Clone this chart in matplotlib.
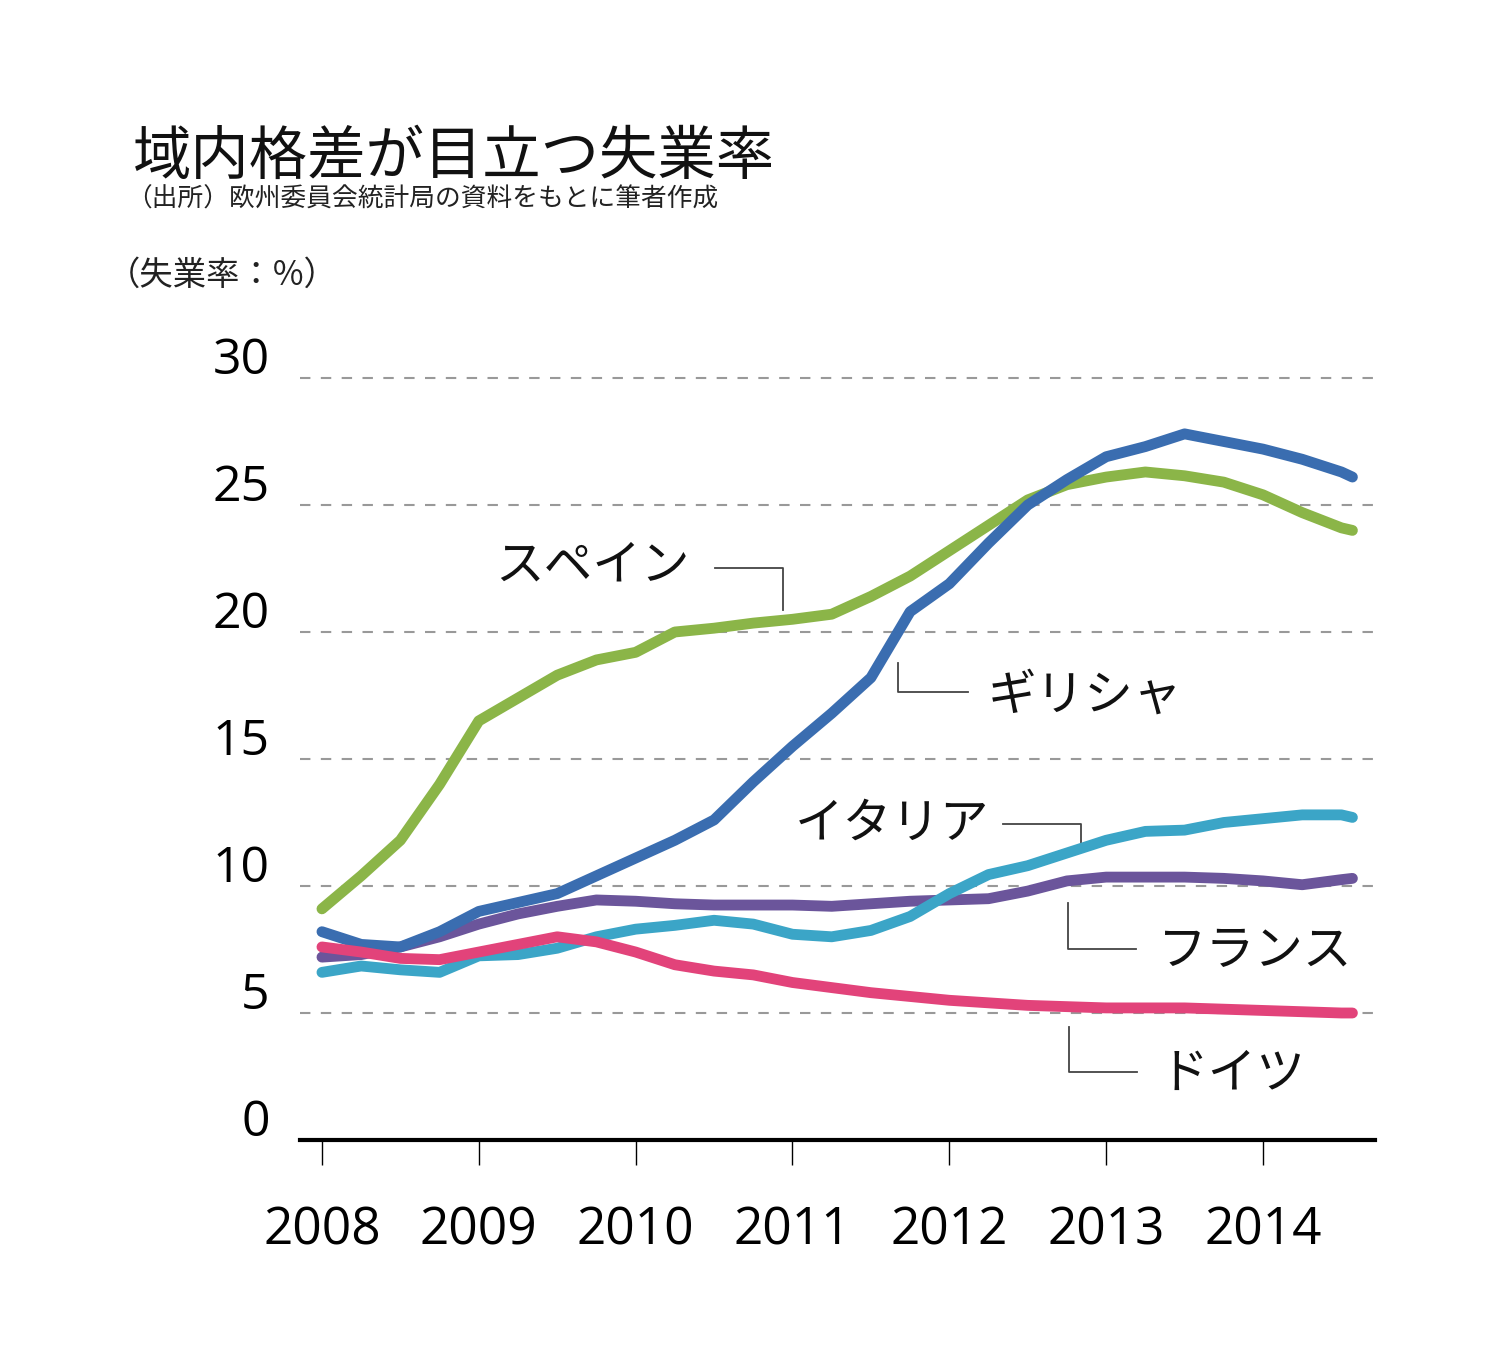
import numpy as np
import matplotlib.pyplot as plt
from matplotlib import transforms

plt.rcParams['font.family'] = ['Noto Sans CJK JP', 'DejaVu Sans']

# 四半期ごとの時点（2008年1月〜2014年半ば）
t = np.append(2008 + np.arange(27) / 4, 2014.57)

spain = [9.1, 10.4, 11.8, 14.0, 16.5, 17.4, 18.3, 18.9, 19.2, 20.0, 20.15, 20.35, 20.5, 20.7,
         21.4, 22.2, 23.2, 24.2, 25.2, 25.8, 26.1, 26.3, 26.15, 25.9, 25.4, 24.7, 24.1, 24.0]
greece = [8.2, 7.7, 7.6, 8.2, 9.0, 9.35, 9.7, 10.4, 11.1, 11.8, 12.6, 14.1, 15.5, 16.8,
          18.2, 20.8, 21.9, 23.5, 25.0, 26.0, 26.9, 27.3, 27.8, 27.5, 27.2, 26.8, 26.3, 26.1]
italy = [6.6, 6.85, 6.7, 6.6, 7.25, 7.3, 7.55, 8.0, 8.3, 8.45, 8.65, 8.5, 8.1, 8.0,
         8.25, 8.8, 9.7, 10.45, 10.8, 11.3, 11.8, 12.15, 12.2, 12.5, 12.65, 12.8, 12.8, 12.7]
france = [7.2, 7.3, 7.6, 8.0, 8.5, 8.9, 9.2, 9.45, 9.4, 9.3, 9.25, 9.25, 9.25, 9.2,
          9.3, 9.4, 9.45, 9.5, 9.8, 10.2, 10.35, 10.35, 10.35, 10.3, 10.2, 10.05, 10.25, 10.3]
germany = [7.6, 7.4, 7.15, 7.1, 7.4, 7.7, 8.0, 7.8, 7.4, 6.9, 6.65, 6.5, 6.2, 6.0,
           5.8, 5.65, 5.5, 5.4, 5.3, 5.25, 5.2, 5.2, 5.2, 5.15, 5.1, 5.05, 5.0, 5.0]

years = [2008, 2009, 2010, 2011, 2012, 2013, 2014]
yticks = [0, 5, 10, 15, 20, 25, 30]

fig = plt.figure(figsize=(15, 13.69), dpi=100)
ax = fig.add_axes([0.2, 0.16728, 0.71667, 0.55661])
ax.set_xlim(2007.86, 2014.714)
ax.set_ylim(0, 30)

# 補助線（破線）
for v in yticks[1:]:
    ax.axhline(v, color='#999999', lw=1.5, dashes=(5, 5), zorder=1, clip_on=False)

lw = 7.8
ax.plot(t, france, color='#6b559b', lw=lw, solid_capstyle='round', zorder=3)
ax.plot(t, italy, color='#3ba5c7', lw=lw, solid_capstyle='round', zorder=3)
ax.plot(t, spain, color='#8bb548', lw=lw, solid_capstyle='round', zorder=3)
ax.plot(t, greece, color='#3a6db0', lw=lw, solid_capstyle='round', zorder=3)
ax.plot(t, germany, color='#e2437a', lw=lw, solid_capstyle='round', zorder=3)

for s in ['top', 'right', 'left']:
    ax.spines[s].set_visible(False)
ax.spines['bottom'].set_linewidth(3)
ax.spines['bottom'].set_zorder(4)

ax.set_xticks(years)
ax.set_xticklabels([str(y) for y in years], family=['Open Sans', 'DejaVu Sans'], fontsize=37)
ax.tick_params(axis='x', length=18, width=1, direction='out', pad=29)
ax.set_yticks([])

# 縦軸の数字（線の少し上）
off = transforms.offset_copy(ax.get_yaxis_transform(), fig=fig, y=12, units='points')
for v in yticks:
    ax.text(-0.028, v, str(v), transform=off, ha='right', va='center',
            fontsize=36, family=['Open Sans', 'DejaVu Sans'])

# ラベルと引き出し線
lc = '#444444'
ax.plot([2010.506, 2010.94, 2010.94], [22.52, 22.52, 20.87], color=lc, lw=1.3, zorder=2)
ax.plot([2011.673, 2011.673, 2012.119], [18.78, 17.64, 17.64], color=lc, lw=1.3, zorder=2)
ax.plot([2012.342, 2012.84, 2012.84], [12.44, 12.44, 11.69], color=lc, lw=1.3, zorder=2)
ax.plot([2012.757, 2012.757, 2013.19], [9.33, 7.52, 7.52], color=lc, lw=1.3, zorder=2)
ax.plot([2012.763, 2012.763, 2013.197], [4.45, 2.68, 2.68], color=lc, lw=1.3, zorder=2)

lab = dict(fontsize=35, ha='left', va='center', color='#111111')
ax.text(2009.103, 22.6, 'スペイン', **lab)
ax.text(2012.247, 17.5, 'ギリシャ', **lab)
ax.text(2011.016, 12.45, 'イタリア', **lab)
ax.text(2013.33, 7.45, 'フランス', **lab)
ax.text(2013.343, 2.6, 'ドイツ', **lab)

fig.text(0.0887, 0.8853, '域内格差が目立つ失業率', fontsize=42, va='center', ha='left', color='#111111')
fig.text(0.084, 0.8539, '（出所）欧州委員会統計局の資料をもとに筆者作成', fontsize=18.5, va='center',
         ha='left', color='#222222')
fig.text(0.071, 0.7991, '（失業率：%）', fontsize=24, va='center', ha='left', color='#222222')

fig.savefig('out.png', dpi=100, facecolor='white')
